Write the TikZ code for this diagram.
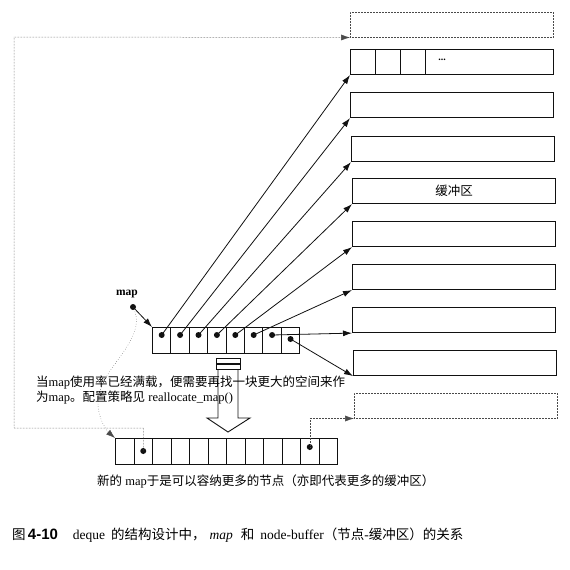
\documentclass[tikz,border=0pt]{standalone}
\usepackage{fontspec}
\setmainfont{Liberation Serif}
\setsansfont{Liberation Sans}
\newfontfamily\zh{Noto Sans CJK SC}
\usetikzlibrary{positioning,arrows.meta,calc}
\definecolor{ink}{HTML}{111111}
\definecolor{muted}{HTML}{4A4A4A}

\begin{document}
\begin{tikzpicture}[x=1pt,y=-1pt,
    buf/.style={draw=ink,line width=1.1pt,minimum width=203pt,minimum height=25pt,inner sep=0pt,anchor=north west,font=\fontsize{12.5}{14}\selectfont},
    spare/.style={buf,draw=muted,line width=0.5pt,densely dotted},
    cell/.style={draw=ink,line width=1pt,minimum width=18.4pt,minimum height=26pt,inner sep=0pt,anchor=north west},
    dot/.style={circle,fill=ink,inner sep=0pt,minimum size=6pt},
    ptr/.style={-{Latex[length=9pt,width=6pt]},line width=0.8pt,draw=ink},
    link/.style={ptr,draw=muted,line width=0.5pt,densely dotted},
    txt/.style={font=\fontsize{12.5}{14.5}\selectfont,inner sep=0pt}]
      \fill[white] (0,0) rectangle (570,570);

      % node buffers
      \node[spare] (b0) at (350,12) {};
      \node[buf] (b1) at (350,49) {};
      \node[buf] (b2) at (350,92) {};
      \node[buf] (b3) at (351,136) {};
      \node[buf] (b4) at (352,178) {\zh 缓冲区};
      \node[buf] (b5) at (352,221) {};
      \node[buf] (b6) at (352,264) {};
      \node[buf] (b7) at (352,307) {};
      \node[buf] (b8) at (353,350) {};
      \node[spare] (b9) at (354,393) {};

      \foreach \k in {25,50,75}
        \draw[ink,line width=1pt] ($(b1.north west)+(\k,0)$) -- ($(b1.south west)+(\k,0)$);
      \node[txt,font=\normalsize\bfseries] (dots) at ($(b1.west)+(92,-2)$) {...};

      % old map
      \foreach \i in {0,...,7}
        \node[cell] (m\i) at (152+18.4*\i,327) {};
      \foreach \i in {0,...,6}
        \node[dot] (d\i) at ($(m\i.north)+(0,8)$) {};
      \node[dot] (d7) at ($(m7.north)+(0,12)$) {};

      \foreach \i/\j in {0/1,1/2,2/3,3/4,4/5,5/6,6/7,7/8}
        \draw[ptr] (d\i.center) -- (b\j.south west);

      \node[font=\fontsize{11.5}{13}\selectfont\bfseries,inner sep=0pt] (maplbl) at (127,294) {map};
      \node[dot] (md) at (133,307) {};
      \draw[ptr] (md.center) -- (m0.north west);

      % new map
      \foreach \i in {0,...,11}
        \node[cell,minimum width=18.5pt] (n\i) at (115+18.5*\i,438) {};
      \node[dot] (e1) at ($(n1.north)+(0,13)$) {};
      \node[dot] (e10) at ($(n10.north)+(0,9)$) {};

      \draw[link,dotted,line width=0.4pt] (md.center) .. controls (150,340) and (98,368) .. (98,403)
        .. controls (98,420) and (108,432) .. (n0.north west);

      \coordinate (lb) at (14,428);
      \coordinate (lt) at (14,37);
      \draw[link] (e1.center) |- (lb) -- (lt) -- (b0.south west);
      \draw[link] (e10.center) |- (b9.south west);

      % hollow arrow
      \draw[ink,line width=0.9pt,fill=white] (216,358) rectangle (240,363);
      \draw[ink,line width=0.9pt,fill=white] (216,364) rectangle (240,369);
      \draw[ink,line width=0.9pt] (218,370) -- (218,418) -- (207,418) -- (228,432) -- (250,418) -- (238,418) -- (238,370);

      \node[txt,anchor=north west,align=left] (note) at (36,376) {
        {\zh 当}map{\zh 使用率已经满载，便需要再找一块更大的空间来作}\\
        {\zh 为}map{\zh 。配置策略见} reallocate\_map()
      };
      \node[txt,anchor=west] (newnote) at (97,481) {{\zh 新的} map{\zh 于是可以容纳更多的节点（亦即代表更多的缓冲区）}};

      \node[font=\fontsize{13.5}{16}\selectfont,inner sep=0pt,anchor=west] (cap) at (12,535) {
        {\zh 图}\,{\fontsize{15}{16}\selectfont\sffamily\bfseries 4-10}\hspace{15pt}deque\hspace{6pt}{\zh 的结构设计中，}\hspace{4pt}\textit{map}\hspace{8pt}{\zh 和}\hspace{6pt}node-buffer{\zh （节点}-{\zh 缓冲区）的关系}
      };
    \end{tikzpicture}
\end{document}
